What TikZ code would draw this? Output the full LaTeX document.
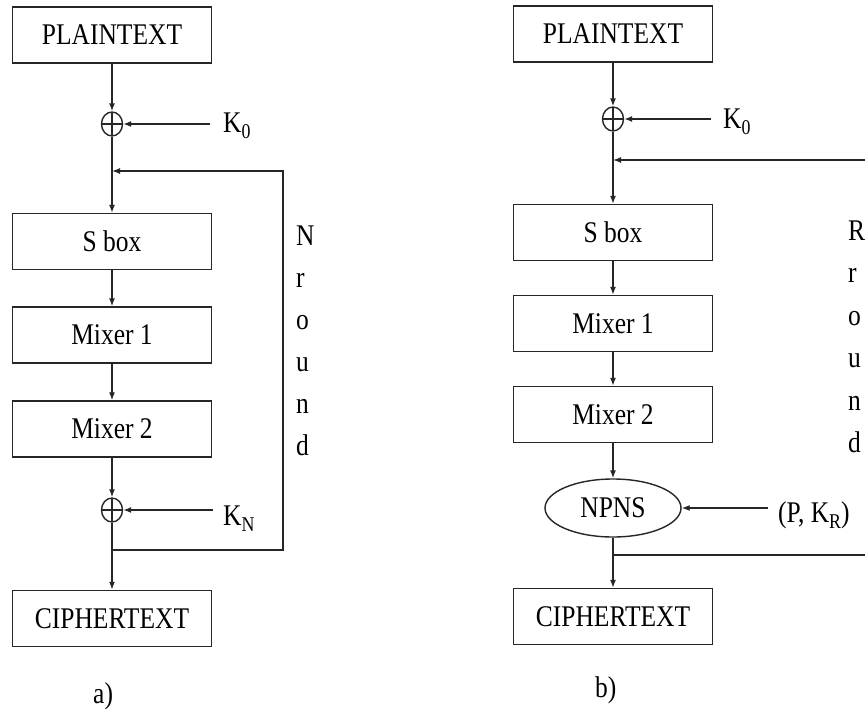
\documentclass[tikz,border=0pt]{standalone}
\usepackage{fontspec}
\setmainfont{Liberation Serif}
\usepackage{graphicx}
\usetikzlibrary{arrows.meta,shapes.geometric}
\newcommand{\nx}[1]{\scalebox{0.85}[1]{#1}}
\newcommand{\subsc}[1]{\raisebox{-6pt}{\fontsize{21}{21}\selectfont #1}}
\begin{document}
\begin{tikzpicture}[x=1pt,y=-1pt,
  ln/.style={line width=1.4pt, draw=black!85},
  arr/.style={ln, -{Latex[length=8pt,width=6pt]}},
  blk/.style={ln, rectangle, minimum width=199pt, minimum height=56pt, inner sep=0pt, font=\fontsize{30}{30}\selectfont},
  xo/.style={ln, ellipse, minimum width=21pt, minimum height=24pt, inner sep=0pt,
    path picture={\draw[ln] (path picture bounding box.north) -- (path picture bounding box.south)
      (path picture bounding box.west) -- (path picture bounding box.east);}},
  ell/.style={ln, ellipse, minimum width=136pt, minimum height=58pt, inner sep=0pt, font=\fontsize{30}{30}\selectfont},
  lbl/.style={inner sep=0pt, font=\fontsize{30}{30}\selectfont, anchor=base west}]
\useasboundingbox[fill=white] (0,0) rectangle (865,713);

% ---------- a) ----------
\node[blk] (pt1) at (112,35) {\nx{PLAINTEXT}};
\node[xo] (x1) at (112,124) {};
\node[blk] (sb1) at (112,241.5) {\nx{S box}};
\node[blk] (m11) at (112,335) {\nx{Mixer 1}};
\node[blk] (m21) at (112,429) {\nx{Mixer 2}};
\node[xo] (x2) at (112,510) {};
\node[blk] (ct1) at (112,618.5) {\nx{CIPHERTEXT}};
\node[lbl] (k01) at (223,132) {\nx{K\subsc{0}}};
\node[lbl] (kn1) at (223,525) {\nx{K\subsc{N}}};
\node[lbl] (la1) at (296,245) {\nx{N}};
\node[lbl] (la2) at (296,287) {\nx{r}};
\node[lbl] (la3) at (296,329) {\nx{o}};
\node[lbl] (la4) at (296,371) {\nx{u}};
\node[lbl] (la5) at (296,413) {\nx{n}};
\node[lbl] (la6) at (296,455) {\nx{d}};
\node[lbl] (cap1) at (93,703) {\nx{a)}};
\coordinate (fbt1) at (283,171);
\coordinate (fbj1) at (112,171);
\coordinate (fbb1) at (283,550);
\coordinate (fbk1) at (112,550);

\draw[arr] (pt1) -- (x1);
\draw[arr] (x1) -- (sb1);
\draw[arr] (sb1) -- (m11);
\draw[arr] (m11) -- (m21);
\draw[arr] (m21) -- (x2);
\draw[arr] (x2) -- (ct1);
\draw[arr, shorten <=13pt] (k01.west |- x1) -- (x1);
\draw[arr, shorten <=10pt] (kn1.west |- x2) -- (x2);
\draw[arr] (fbk1) -- (fbb1) -- (fbt1) -- (fbj1);

% ---------- b) ----------
\node[blk] (pt2) at (613,34) {\nx{PLAINTEXT}};
\node[xo] (x3) at (613,119) {};
\node[blk] (sb2) at (613,232.5) {\nx{S box}};
\node[blk] (m12) at (613,323.5) {\nx{Mixer 1}};
\node[blk] (m22) at (613,414.5) {\nx{Mixer 2}};
\node[ell] (np) at (613,508) {\nx{NPNS}};
\node[blk] (ct2) at (613,616.5) {\nx{CIPHERTEXT}};
\node[lbl] (k02) at (723,128) {\nx{K\subsc{0}}};
\node[lbl] (pk) at (778,522) {\nx{(P, K\subsc{R})}};
\node[lbl] (lb1) at (848,240) {\nx{R}};
\node[lbl] (lb2) at (848,282) {\nx{r}};
\node[lbl] (lb3) at (848,325) {\nx{o}};
\node[lbl] (lb4) at (848,367) {\nx{u}};
\node[lbl] (lb5) at (848,410) {\nx{n}};
\node[lbl] (lb6) at (848,452) {\nx{d}};
\node[lbl] (cap2) at (595,697) {\nx{b)}};
\coordinate (fbt2) at (866,160);
\coordinate (fbj2) at (613,160);
\coordinate (fbb2) at (866,555);
\coordinate (fbk2) at (613,555);

\draw[arr] (pt2) -- (x3);
\draw[arr] (x3) -- (sb2);
\draw[arr] (sb2) -- (m12);
\draw[arr] (m12) -- (m22);
\draw[arr] (m22) -- (np);
\draw[arr] (np) -- (ct2);
\draw[arr, shorten <=12pt] (k02.west |- x3) -- (x3);
\draw[arr, shorten <=10pt] (pk.west |- np) -- (np);
\draw[arr] (fbt2) -- (fbj2);
\draw[ln] (fbk2) -- (fbb2);
\end{tikzpicture}
\end{document}
